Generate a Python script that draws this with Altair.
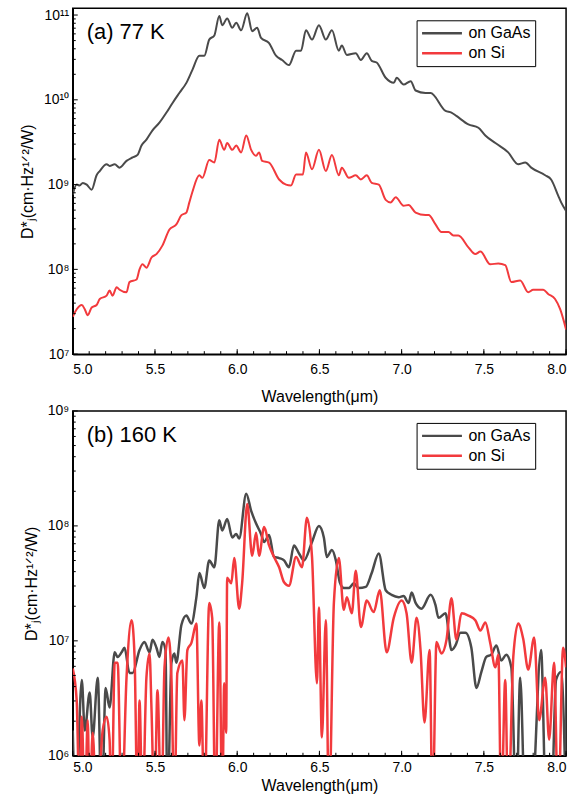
import altair as alt
import pandas as pd

# ---- data: (wavelength in µm, log10 of D*j) ----
a_gaas = [
    (5.000, 8.88), (5.024, 9.00), (5.042, 8.99), (5.061, 9.02), (5.085, 9.00), (5.115, 8.94),
    (5.145, 9.11), (5.164, 9.16), (5.206, 9.24), (5.224, 9.22), (5.255, 9.24), (5.285, 9.20),
    (5.327, 9.28), (5.364, 9.32), (5.394, 9.35), (5.418, 9.46), (5.448, 9.53), (5.485, 9.64),
    (5.527, 9.73), (5.570, 9.85), (5.606, 9.96), (5.648, 10.08), (5.691, 10.20), (5.727, 10.35),
    (5.770, 10.52), (5.800, 10.52), (5.830, 10.71), (5.861, 10.76), (5.891, 10.99), (5.909, 10.88),
    (5.939, 10.96), (5.970, 10.85), (5.994, 10.91), (6.024, 10.82), (6.061, 11.02), (6.091, 10.81),
    (6.121, 10.85), (6.145, 10.73), (6.194, 10.67), (6.236, 10.52), (6.273, 10.47), (6.315, 10.41),
    (6.358, 10.58), (6.388, 10.58), (6.418, 10.82), (6.455, 10.71), (6.497, 10.88), (6.539, 10.71),
    (6.576, 10.82), (6.618, 10.58), (6.636, 10.64), (6.667, 10.53), (6.721, 10.55), (6.752, 10.47),
    (6.788, 10.55), (6.818, 10.46), (6.848, 10.44), (6.903, 10.26), (6.952, 10.20), (6.970, 10.26),
    (7.012, 10.18), (7.055, 10.22), (7.085, 10.11), (7.145, 10.08), (7.176, 10.08), (7.267, 9.87),
    (7.303, 9.85), (7.333, 9.81), (7.406, 9.71), (7.467, 9.67), (7.509, 9.58), (7.570, 9.49),
    (7.648, 9.38), (7.709, 9.24), (7.752, 9.26), (7.788, 9.20), (7.873, 9.11), (7.909, 9.06),
    (7.952, 8.87), (7.970, 8.79), (8.000, 8.69),
]
a_si = [
    (5.000, 7.44), (5.024, 7.53), (5.055, 7.58), (5.073, 7.53), (5.091, 7.46), (5.115, 7.55),
    (5.145, 7.58), (5.164, 7.65), (5.206, 7.69), (5.224, 7.75), (5.242, 7.69), (5.267, 7.79),
    (5.285, 7.76), (5.327, 7.73), (5.345, 7.85), (5.388, 7.88), (5.406, 8.00), (5.424, 8.06),
    (5.448, 8.02), (5.479, 8.14), (5.509, 8.18), (5.545, 8.28), (5.588, 8.47), (5.630, 8.53),
    (5.661, 8.64), (5.691, 8.67), (5.709, 8.79), (5.727, 8.91), (5.770, 9.11), (5.788, 9.08),
    (5.830, 9.29), (5.861, 9.26), (5.891, 9.53), (5.921, 9.41), (5.939, 9.49), (5.970, 9.41),
    (5.994, 9.46), (6.024, 9.38), (6.055, 9.58), (6.085, 9.41), (6.115, 9.34), (6.133, 9.38),
    (6.152, 9.28), (6.194, 9.26), (6.255, 9.06), (6.297, 9.00), (6.327, 8.99), (6.358, 9.12),
    (6.400, 9.12), (6.418, 9.38), (6.455, 9.18), (6.497, 9.41), (6.539, 9.16), (6.576, 9.35),
    (6.618, 9.11), (6.636, 9.20), (6.679, 9.08), (6.721, 9.11), (6.752, 9.06), (6.788, 9.11),
    (6.818, 9.02), (6.861, 9.00), (6.903, 8.82), (6.933, 8.79), (6.964, 8.85), (7.012, 8.75),
    (7.042, 8.76), (7.085, 8.67), (7.145, 8.64), (7.164, 8.64), (7.206, 8.53), (7.242, 8.44),
    (7.285, 8.44), (7.315, 8.40), (7.345, 8.40), (7.406, 8.26), (7.448, 8.18), (7.479, 8.21),
    (7.539, 8.06), (7.588, 8.07), (7.630, 8.05), (7.667, 7.85), (7.721, 7.87), (7.770, 7.73),
    (7.800, 7.76), (7.861, 7.76), (7.891, 7.71), (7.933, 7.65), (7.964, 7.53), (8.000, 7.29),
]
b_gaas = [
    (5.000, 6.22), (5.018, 5.50), (5.055, 6.66), (5.073, 6.22), (5.103, 6.55), (5.121, 6.16),
    (5.152, 6.68), (5.176, 5.50), (5.200, 6.59), (5.224, 6.42), (5.255, 6.90), (5.273, 6.86),
    (5.297, 6.90), (5.315, 6.94), (5.345, 6.72), (5.364, 6.72), (5.406, 6.92), (5.436, 6.99),
    (5.467, 6.90), (5.485, 7.01), (5.509, 6.94), (5.527, 6.86), (5.545, 6.99), (5.564, 6.92),
    (5.576, 5.50), (5.600, 6.81), (5.618, 6.89), (5.630, 6.81), (5.661, 7.14), (5.691, 7.22),
    (5.721, 7.15), (5.752, 7.38), (5.770, 7.59), (5.800, 7.46), (5.830, 7.70), (5.861, 7.64),
    (5.891, 8.05), (5.909, 7.96), (5.939, 8.06), (5.970, 7.90), (5.994, 7.93), (6.012, 7.89),
    (6.055, 8.28), (6.085, 8.13), (6.115, 8.02), (6.145, 7.93), (6.164, 7.86), (6.194, 7.92),
    (6.224, 7.73), (6.255, 7.72), (6.285, 7.70), (6.315, 7.64), (6.345, 7.83), (6.376, 7.76),
    (6.406, 7.70), (6.455, 7.86), (6.497, 8.00), (6.527, 7.90), (6.545, 7.73), (6.576, 7.79),
    (6.600, 7.70), (6.624, 7.51), (6.648, 7.46), (6.679, 7.46), (6.709, 7.50), (6.739, 7.46),
    (6.782, 7.47), (6.818, 7.59), (6.861, 7.76), (6.903, 7.44), (6.939, 7.40), (6.982, 7.38),
    (7.012, 7.39), (7.042, 7.33), (7.061, 7.42), (7.085, 7.33), (7.121, 7.28), (7.176, 7.40),
    (7.206, 7.31), (7.224, 7.20), (7.267, 7.24), (7.303, 6.92), (7.327, 6.96), (7.358, 7.07),
    (7.388, 7.07), (7.424, 6.94), (7.455, 6.59), (7.485, 6.73), (7.515, 6.86), (7.545, 6.88),
    (7.576, 6.96), (7.606, 6.83), (7.636, 6.88), (7.667, 6.77), (7.697, 5.50), (7.721, 6.68),
    (7.752, 5.50), (7.788, 5.50), (7.848, 6.92), (7.879, 5.50), (7.909, 5.50), (7.939, 6.66),
    (7.970, 6.73), (8.000, 5.50),
]
b_si = [
    (5.000, 6.76), (5.024, 6.48), (5.042, 5.50), (5.055, 6.34), (5.073, 5.50), (5.091, 6.31),
    (5.103, 5.50), (5.121, 6.20), (5.145, 5.50), (5.182, 6.22), (5.206, 6.34), (5.224, 6.14),
    (5.236, 5.50), (5.255, 6.81), (5.273, 6.81), (5.297, 5.50), (5.327, 6.68), (5.358, 7.18),
    (5.376, 6.86), (5.394, 5.50), (5.406, 6.48), (5.424, 5.50), (5.448, 6.68), (5.467, 6.89),
    (5.479, 6.40), (5.497, 5.50), (5.515, 6.57), (5.539, 5.50), (5.558, 6.77), (5.582, 7.03),
    (5.600, 6.68), (5.618, 5.50), (5.636, 6.72), (5.667, 6.83), (5.679, 6.31), (5.697, 6.92),
    (5.721, 6.98), (5.752, 7.15), (5.770, 6.09), (5.782, 6.48), (5.800, 5.50), (5.830, 7.33),
    (5.848, 7.20), (5.867, 5.50), (5.891, 7.16), (5.909, 5.50), (5.921, 6.63), (5.933, 6.20),
    (5.939, 7.55), (5.964, 7.50), (5.982, 7.72), (6.012, 7.28), (6.030, 7.50), (6.061, 8.19),
    (6.091, 7.74), (6.115, 7.94), (6.133, 7.74), (6.164, 7.99), (6.194, 7.83), (6.224, 7.73),
    (6.255, 7.64), (6.285, 7.51), (6.315, 7.48), (6.358, 7.73), (6.394, 7.64), (6.424, 8.07),
    (6.455, 7.73), (6.485, 6.63), (6.497, 7.29), (6.515, 6.16), (6.539, 7.18), (6.558, 5.50),
    (6.588, 7.33), (6.618, 7.72), (6.648, 7.27), (6.667, 7.38), (6.697, 7.24), (6.721, 7.61),
    (6.752, 7.12), (6.788, 7.35), (6.830, 7.25), (6.867, 7.44), (6.909, 6.90), (6.952, 7.20),
    (7.000, 7.35), (7.030, 7.24), (7.061, 6.81), (7.091, 7.20), (7.115, 6.92), (7.139, 6.29),
    (7.170, 6.92), (7.188, 5.50), (7.212, 6.99), (7.242, 6.89), (7.273, 7.01), (7.303, 7.37),
    (7.333, 7.01), (7.364, 7.24), (7.406, 7.22), (7.448, 7.18), (7.479, 7.09), (7.509, 7.16),
    (7.539, 6.98), (7.570, 6.77), (7.588, 6.88), (7.606, 5.50), (7.630, 6.66), (7.648, 5.50),
    (7.679, 6.86), (7.709, 7.15), (7.739, 7.02), (7.770, 6.75), (7.806, 7.03), (7.836, 6.31),
    (7.873, 6.68), (7.897, 6.14), (7.927, 6.81), (7.952, 5.50), (7.982, 6.94), (8.000, 6.77),
]

series_names = ["on GaAs", "on Si"]
series_colors = ["#4a4a4a", "#f23a3d"]
x_label_values = [5.0, 5.5, 6.0, 6.5, 7.0, 7.5, 8.0]
panel_tags = ["(a) 77 K", "(b) 160 K"]
x_title = "Wavelength(μm)"
y_title = "D*ⱼ(cm·Hz¹ᐟ²/W)"

FONT = "Liberation Sans"
PW = 495
SUP = str.maketrans("0123456789", "⁰¹²³⁴⁵⁶⁷⁸⁹")


def make_df(gaas, si):
    rows = []
    for name, pairs in ((series_names[0], gaas), (series_names[1], si)):
        for wl, lg in pairs:
            rows.append({"wl": wl, "D": 10 ** lg, "series": name})
    return pd.DataFrame(rows)


def panel(df, lo_exp, hi_exp, top_val, height, tag, label_pad, title_y, stroke_w):
    xs = alt.Scale(domain=[5.0, 8.0], nice=False, zero=False)
    ys = alt.Scale(type="log", domain=[10.0 ** lo_exp, top_val], nice=False)
    exps = list(range(lo_exp, hi_exp + 1))
    majors = [10.0 ** e for e in exps]
    minors = [n * 10.0 ** e for e in range(lo_exp, hi_exp) for n in range(2, 10)]
    label_expr = " : ".join(
        f"round(log(datum.value)/LN10) == {e} ? '10{str(e).translate(SUP)}'" for e in exps
    ) + " : ''"
    x_minor = [round(5.0 + 0.1 * i, 1) for i in range(31)]

    x_axis = alt.Axis(title=x_title, values=x_label_values, format=".1f", ticks=False,
                      grid=False, labelPadding=label_pad, titleY=title_y, titleBaseline="top")
    y_axis = alt.Axis(title=y_title, values=majors, labelExpr=label_expr, ticks=False,
                      grid=False, labelPadding=4, titlePadding=8)

    lines = alt.Chart(df).mark_line(
        strokeWidth=stroke_w, interpolate="monotone", clip=True
    ).encode(
        x=alt.X("wl:Q", scale=xs, axis=x_axis),
        y=alt.Y("D:Q", scale=ys, axis=y_axis),
        color=alt.Color("series:N", scale=alt.Scale(domain=series_names, range=series_colors),
                        legend=alt.Legend(
                            title=None, orient="none", legendX=345, legendY=12,
                            strokeColor="black", fillColor="white", padding=4,
                            labelFont=FONT, labelFontSize=16, labelColor="black",
                            symbolType="stroke", symbolSize=1600, symbolStrokeWidth=2.5,
                            clipHeight=18, rowPadding=2, labelOffset=5)),
    )

    def xticks(vals, ln):
        return alt.Chart(pd.DataFrame({"wl": vals})).mark_rule(color="black", strokeWidth=1).encode(
            x=alt.X("wl:Q", scale=xs, axis=x_axis), y=alt.value(height), y2=alt.value(height - ln))

    def yticks(vals, ln):
        return alt.Chart(pd.DataFrame({"D": vals})).mark_rule(color="black", strokeWidth=1).encode(
            y=alt.Y("D:Q", scale=ys, axis=y_axis), x=alt.value(0), x2=alt.value(ln))

    label = alt.Chart(pd.DataFrame({"label": [tag]})).mark_text(
        align="left", baseline="alphabetic", fontSize=22, font=FONT, color="black"
    ).encode(x=alt.value(14), y=alt.value(31), text="label:N")

    return alt.layer(
        lines,
        xticks(x_minor, 3), xticks(x_label_values, 5),
        yticks(minors, 3), yticks(majors, 5),
        label,
    ).properties(width=PW, height=height)


top = panel(make_df(a_gaas, a_si), 7, 11, 1.2e11, 347, panel_tags[0], 8, 35, 2)
bottom = panel(make_df(b_gaas, b_si), 6, 9, 1e9, 346, panel_tags[1], 5, 22, 2.5)

chart = alt.vconcat(top, bottom, spacing=-3).resolve_scale(color="independent").properties(
    padding={"left": 19, "top": 5, "right": 19, "bottom": 1},
    background="white",
).configure_view(
    stroke="black", strokeWidth=1.5
).configure_axis(
    labelFont=FONT, labelFontSize=14, labelColor="black",
    titleFont=FONT, titleFontSize=16, titleFontWeight="normal", titleColor="black",
    domainColor="black", domainWidth=1.5,
)

chart.save("out.html", embed_options={"renderer": "svg", "actions": False})
